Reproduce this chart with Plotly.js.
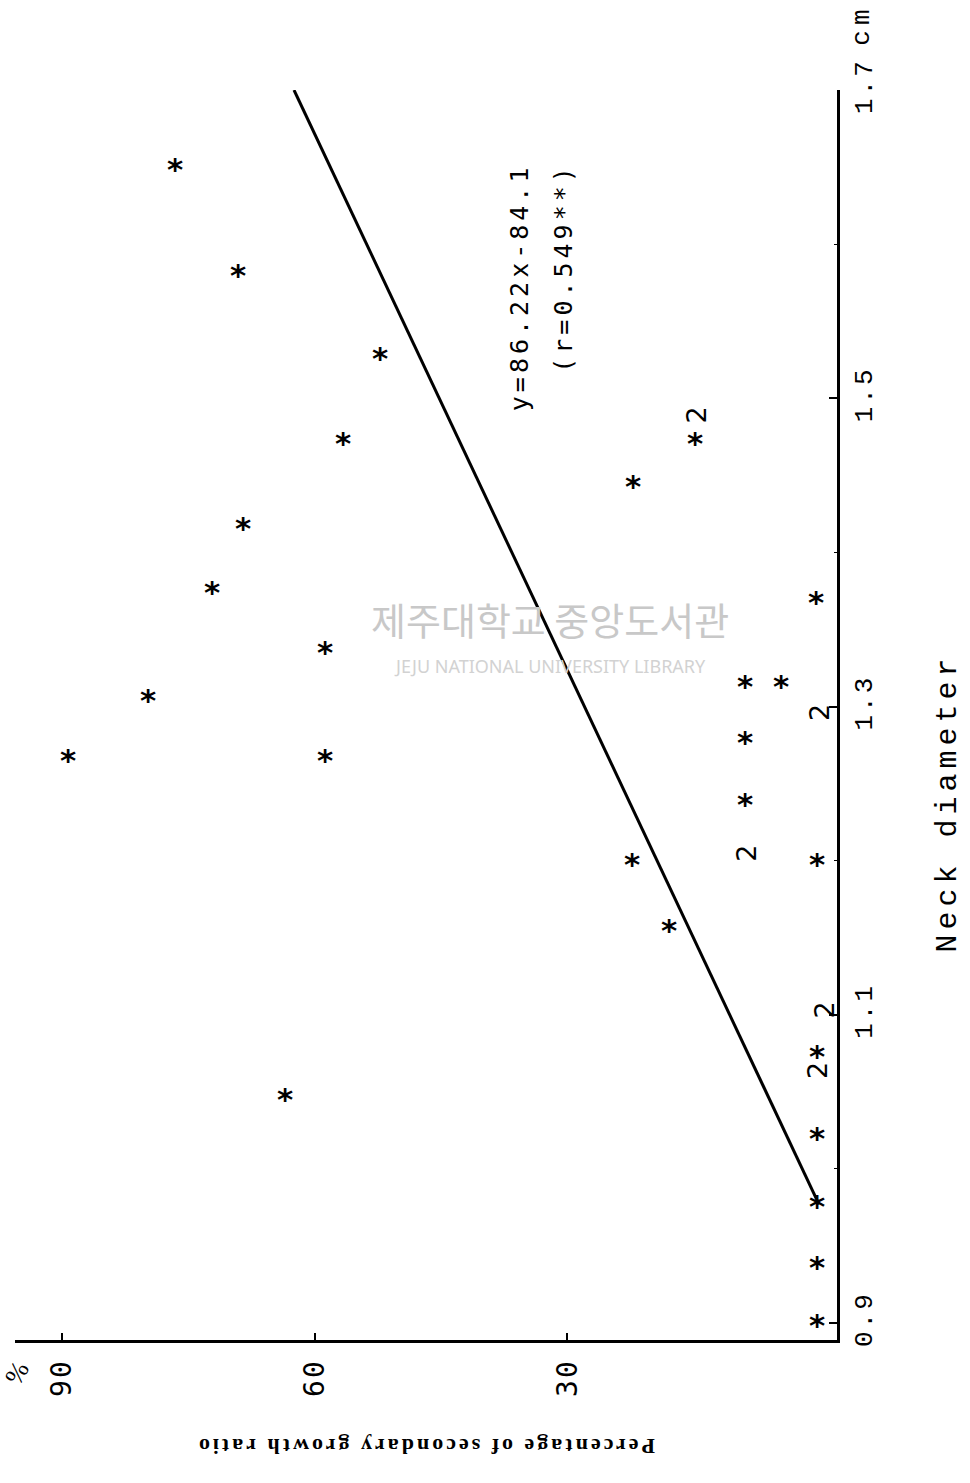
<!DOCTYPE html>
<html><head><meta charset="utf-8">
<script src="https://cdn.plot.ly/plotly-3.0.1.min.js"></script>
<style>html,body{margin:0;padding:0;background:#fff}</style>
</head><body><div id="chart" style="width:970px;height:1483px"></div>
<script>
// Percentage of secondary growth ratio (%) for each plotted asterisk
const starPct  = [76.6, 69.1, 52.3, 56.7, 68.5, 72.2, 58.8, 79.8, 89.3, 58.8, 63.6,
                  22.2, 14.9, 0.5, 8.9, 4.6, 8.9, 8.9, 0.4, 22.3, 18.0, 0.4, 0.4, 0.4, 0.4, 0.4];
// Neck diameter (cm) for each plotted asterisk
const starNeck = [1.651, 1.582, 1.528, 1.473, 1.418, 1.376, 1.337, 1.306, 1.267, 1.267, 1.047,
                  1.445, 1.473, 1.370, 1.315, 1.315, 1.279, 1.239, 1.200, 1.200, 1.157, 1.075, 1.022, 0.978, 0.938, 0.901];
// "2" labels (two coincident observations)
const twoPct  = [14.7, 0.1, 8.7, -0.5, 0.4];
const twoNeck = [1.489, 1.296, 1.205, 1.103, 1.064];
// regression y = 86.22x - 84.1
const slope = 86.22, intercept = -84.1;
const lineNeck = [0.977, 1.70];
const linePct = lineNeck.map(v => slope * v + intercept);
const neckTicks = [0.9, 1.1, 1.3, 1.5, 1.7];
const neckTickText = ['0.9', '1.1', '1.3', '1.5', '1.7'];
const pctTicks = [90, 60, 30];
const pctTickText = ['90', '60', '30'];

const sp = (s, px) => '<span style="letter-spacing:' + px + 'px">' + s + '</span>';

const data = [
  {x: linePct, y: lineNeck, mode: 'lines', line: {color: '#000', width: 3}, hoverinfo: 'skip'},
  {x: starPct, y: starNeck, mode: 'markers', marker: {size: 1, color: 'rgba(0,0,0,0)'},
   hoverinfo: 'x+y'}
];

// asterisk glyphs drawn at the data coordinates (shift compensates glyph sitting high in its line box)
const annotations = starPct.map((p, i) => ({
  x: p, y: starNeck[i], xref: 'x', yref: 'y', text: '*', showarrow: false,
  xanchor: 'center', yanchor: 'middle', yshift: -3,
  font: {family: 'DejaVu Sans', size: 31, color: '#000', weight: 'bold'}
}));

twoPct.forEach((p, i) => annotations.push({
  x: p, y: twoNeck[i], xref: 'x', yref: 'y', text: '2', showarrow: false, textangle: -90,
  font: {family: 'DejaVu Sans', size: 27, color: '#000'}
}));

annotations.push(
  {xref: 'paper', yref: 'paper', x: 0.614, y: 0.842, xanchor: 'center', yanchor: 'middle',
   text: sp('y=86.22x-84.1', 4), showarrow: false, textangle: -90,
   font: {family: 'DejaVu Sans Mono', size: 25, color: '#000'}},
  {xref: 'paper', yref: 'paper', x: 0.667, y: 0.858, xanchor: 'center', yanchor: 'middle',
   text: sp('(r=0.549**)', 4), showarrow: false, textangle: -90,
   font: {family: 'DejaVu Sans Mono', size: 25, color: '#000'}},
  {xref: 'paper', yref: 'paper', x: 1.135, y: 0.43, xanchor: 'center', yanchor: 'middle',
   text: sp('Neck diameter', 5), showarrow: false, textangle: -90,
   font: {family: 'Liberation Mono', size: 30, color: '#000'}},
  {xref: 'paper', yref: 'paper', x: 1.03, y: 1.052, xanchor: 'center', yanchor: 'middle',
   text: sp('cm', 5), showarrow: false, textangle: -90,
   font: {family: 'Liberation Mono', size: 26, color: '#000'}},
  {xref: 'paper', yref: 'paper', x: 0.003, y: -0.026, xanchor: 'center', yanchor: 'middle',
   text: '%', showarrow: false, textangle: -60,
   font: {family: 'Liberation Serif', size: 26, color: '#000'}},
  {xref: 'paper', yref: 'paper', x: 0.50, y: -0.085, xanchor: 'center', yanchor: 'middle',
   text: sp('Percentage of secondary growth ratio', 3), showarrow: false, textangle: 180,
   font: {family: 'Liberation Serif', size: 22, color: '#000', weight: 'bold'}},
  {xref: 'paper', yref: 'paper', x: 0.651, y: 0.577, xanchor: 'center', yanchor: 'middle',
   text: '제주대학교 중앙도서관', showarrow: false,
   font: {family: 'Noto Sans CJK KR', size: 38, color: '#c8c8c8'}},
  {xref: 'paper', yref: 'paper', x: 0.651, y: 0.539, xanchor: 'center', yanchor: 'middle',
   text: 'JEJU NATIONAL UNIVERSITY LIBRARY', showarrow: false,
   font: {family: 'Noto Sans', size: 18, color: '#d2d2d2'}}
);

const layout = {
  width: 970, height: 1483,
  margin: {l: 15, r: 133, t: 90, b: 143},
  paper_bgcolor: '#fff', plot_bgcolor: '#fff',
  showlegend: false,
  font: {family: 'DejaVu Sans Mono', color: '#000'},
  xaxis: {
    range: [95.6, -2.0], showgrid: false, zeroline: false,
    showline: true, linecolor: '#000', linewidth: 3, mirror: false,
    ticks: 'inside', ticklen: 7, tickwidth: 2, tickcolor: '#000',
    tickmode: 'array', tickvals: pctTicks, ticktext: pctTickText.map(t => sp(t, 2)),
    tickangle: -90, tickfont: {family: 'DejaVu Sans Mono', size: 28, color: '#000'},
    ticklabelstandoff: 5
  },
  yaxis: {
    range: [0.889, 1.70], side: 'right', showgrid: false, zeroline: false,
    showline: true, linecolor: '#000', linewidth: 3,
    ticks: 'inside', ticklen: 8, tickwidth: 2, tickcolor: '#000',
    tickmode: 'array', tickvals: neckTicks, ticktext: neckTickText.map(t => sp(t, 3)),
    tickangle: -90, tickfont: {family: 'Liberation Mono', size: 26, color: '#000'},
    minor: {tickvals: [1.0, 1.2, 1.4, 1.6], ticks: 'inside', ticklen: 3, tickwidth: 1, tickcolor: '#000'},
    ticklabelstandoff: 1
  },
  annotations: annotations
};

Plotly.newPlot('chart', data, layout, {staticPlot: true});
</script>
</body></html>
